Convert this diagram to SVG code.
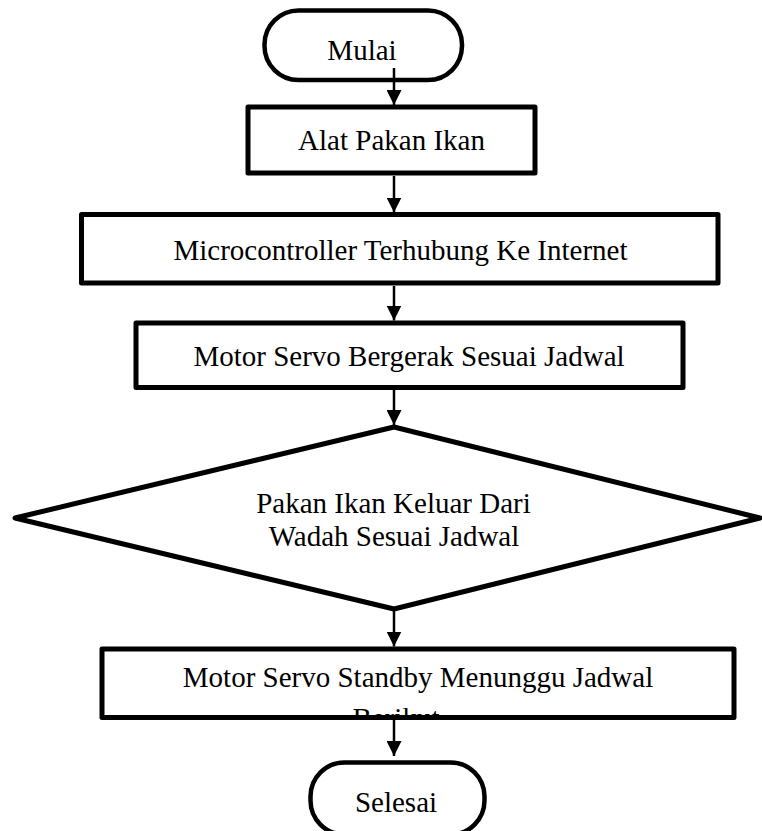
<svg xmlns="http://www.w3.org/2000/svg" width="762" height="831" viewBox="0 0 762 831">
<style>
.box{fill:#fff;stroke:#000;stroke-width:5;stroke-linejoin:round}
.term{fill:#fff;stroke:#000;stroke-width:4.5}
.t{font-family:"Liberation Serif","Times New Roman",serif;font-size:29px;fill:#000;text-anchor:middle}
.c{stroke:#000;stroke-width:2.5;fill:none}
</style>
<defs>
<marker id="ah" markerUnits="userSpaceOnUse" markerWidth="15" markerHeight="15" refX="15" refY="7.5" orient="auto" viewBox="0 0 15 15">
<path d="M0,0 L15,7.5 L0,15 z" fill="#000"/>
</marker>
<clipPath id="clipStandby"><rect x="102" y="649" width="632" height="66"/></clipPath>
</defs>
<rect width="762" height="831" fill="#fff"/>
<g id="mulai">
<rect class="term" x="264.5" y="10.5" width="197.5" height="69.5" rx="34" ry="34"/>
<text class="t" x="362" y="60">Mulai</text>
</g>
<g id="alat">
<rect class="box" x="248" y="107" width="287" height="66"/>
<text class="t" x="391.5" y="150">Alat Pakan Ikan</text>
</g>
<g id="micro">
<rect class="box" x="81.5" y="214.5" width="636.5" height="68.5"/>
<text class="t" x="400.5" y="260">Microcontroller Terhubung Ke Internet</text>
</g>
<g id="servo">
<rect class="box" x="136" y="323" width="547" height="64.5"/>
<text class="t" x="409" y="365.5">Motor Servo Bergerak Sesuai Jadwal</text>
</g>
<g id="decision">
<polygon class="box" points="394,427 760,518 394,609 15,518"/>
<text class="t" x="393.5" y="513">Pakan Ikan Keluar Dari</text>
<text class="t" x="394" y="546">Wadah Sesuai Jadwal</text>
</g>
<g id="standby">
<rect class="box" x="102" y="649" width="632" height="68.5"/>
<g clip-path="url(#clipStandby)">
<text class="t" x="418" y="686.5">Motor Servo Standby Menunggu Jadwal</text>
<text class="t" x="396" y="728">Berikut</text>
</g>
</g>
<g id="selesai">
<rect class="term" x="310.5" y="762.5" width="174" height="72" rx="34" ry="34"/>
<text class="t" x="396" y="811.5">Selesai</text>
</g>
<g id="connectors">
<line class="c" x1="394" y1="68" x2="394" y2="105" marker-end="url(#ah)"/>
<line class="c" x1="394" y1="176" x2="394" y2="212.5" marker-end="url(#ah)"/>
<line class="c" x1="394" y1="286" x2="394" y2="320.5" marker-end="url(#ah)"/>
<line class="c" x1="394" y1="390" x2="394" y2="425" marker-end="url(#ah)"/>
<line class="c" x1="394" y1="611" x2="394" y2="646.5" marker-end="url(#ah)"/>
<line class="c" x1="394" y1="720" x2="394" y2="756" marker-end="url(#ah)"/>
</g>
</svg>
